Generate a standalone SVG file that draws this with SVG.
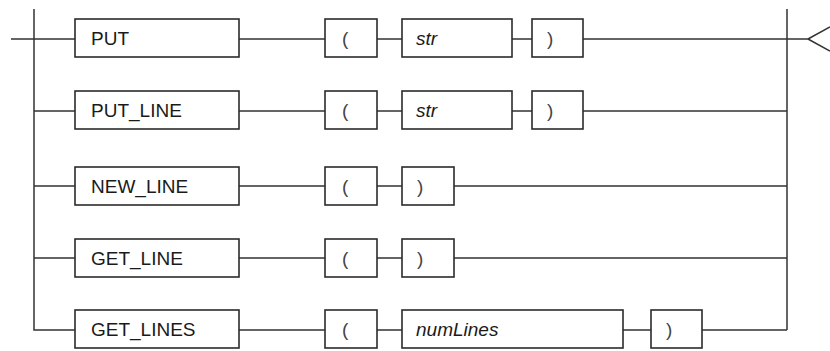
<svg xmlns="http://www.w3.org/2000/svg" width="830" height="351" viewBox="0 0 830 351">
<style>
.box{fill:#fff;stroke:#2b2b2b;stroke-width:1.6}
.ln{fill:none;stroke:#333;stroke-width:1.5}
.t{font-family:"Liberation Sans",Arial,sans-serif;font-size:19px;fill:#1a1a1a}
.i{font-style:italic}
.p{fill:#444}
</style>
<rect width="830" height="351" fill="#fff"/>
<g id="connectors" class="ln">
<path d="M11 39H75M34 9V330H75M34 111H75M34 186H75M34 258H75"/>
<path d="M787 9V330M808 39L830 27M808 39L830 51"/>
<path d="M239 39H325M377 39H402M512 39H532M583 39H808"/>
<path d="M239 111H325M377 111H402M512 111H532M583 111H787"/>
<path d="M239 186H325M377 186H402M454 186H787"/>
<path d="M239 258H325M377 258H402M454 258H787"/>
<path d="M239 330H325M377 330H402M623 330H651M702 330H787"/>
</g>
<g id="put"><rect class="box" x="75" y="19" width="164" height="38"/><text class="t" x="91" y="45">PUT</text></g>
<g id="put_lp"><rect class="box" x="325" y="19" width="52" height="38"/><text class="t p" x="342" y="45">(</text></g>
<g id="put_str"><rect class="box" x="402" y="19" width="110" height="38"/><text class="t i" x="416" y="45">str</text></g>
<g id="put_rp"><rect class="box" x="532" y="19" width="51" height="38"/><text class="t p" x="547" y="45">)</text></g>

<g id="put_line"><rect class="box" x="75" y="91" width="164" height="38"/><text class="t" x="91" y="117">PUT_LINE</text></g>
<g id="put_line_lp"><rect class="box" x="325" y="91" width="52" height="38"/><text class="t p" x="342" y="117">(</text></g>
<g id="put_line_str"><rect class="box" x="402" y="91" width="110" height="38"/><text class="t i" x="416" y="117">str</text></g>
<g id="put_line_rp"><rect class="box" x="532" y="91" width="51" height="38"/><text class="t p" x="547" y="117">)</text></g>

<g id="new_line"><rect class="box" x="75" y="167" width="164" height="38"/><text class="t" x="91" y="193">NEW_LINE</text></g>
<g id="new_line_lp"><rect class="box" x="325" y="167" width="52" height="38"/><text class="t p" x="342" y="193">(</text></g>
<g id="new_line_rp"><rect class="box" x="402" y="167" width="52" height="38"/><text class="t p" x="417" y="193">)</text></g>

<g id="get_line"><rect class="box" x="75" y="239" width="164" height="38"/><text class="t" x="91" y="265">GET_LINE</text></g>
<g id="get_line_lp"><rect class="box" x="325" y="239" width="52" height="38"/><text class="t p" x="342" y="265">(</text></g>
<g id="get_line_rp"><rect class="box" x="402" y="239" width="52" height="38"/><text class="t p" x="417" y="265">)</text></g>

<g id="get_lines"><rect class="box" x="75" y="310" width="164" height="38"/><text class="t" x="91" y="336">GET_LINES</text></g>
<g id="get_lines_lp"><rect class="box" x="325" y="310" width="52" height="38"/><text class="t p" x="342" y="336">(</text></g>
<g id="get_lines_num"><rect class="box" x="402" y="310" width="221" height="38"/><text class="t i" x="416" y="336">numLines</text></g>
<g id="get_lines_rp"><rect class="box" x="651" y="310" width="51" height="38"/><text class="t p" x="666" y="336">)</text></g>
</svg>
